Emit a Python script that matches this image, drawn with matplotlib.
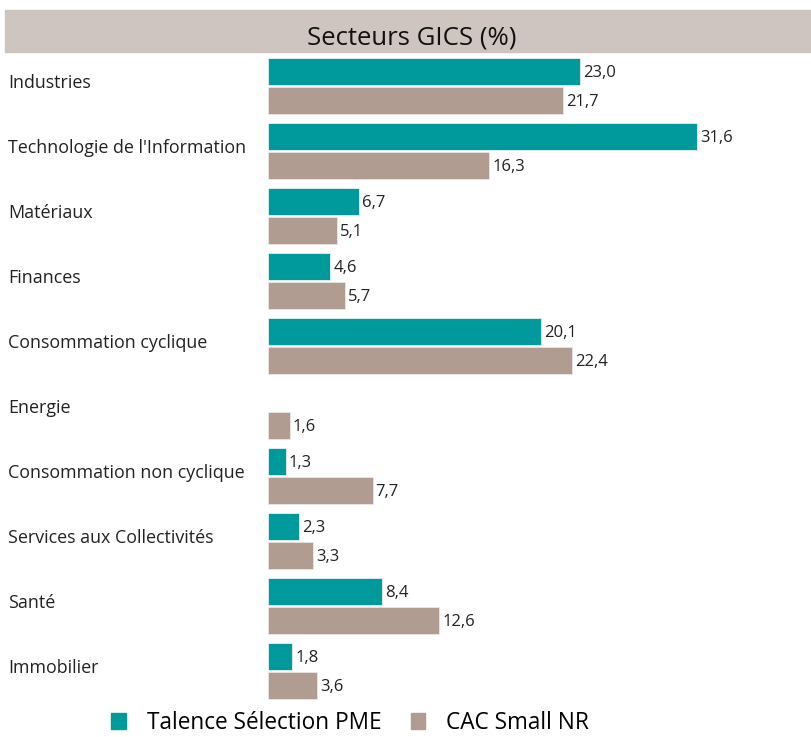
import numpy as np
import matplotlib.pyplot as plt
from matplotlib.patches import Patch, Rectangle
from matplotlib.transforms import blended_transform_factory

plt.rcParams['font.family'] = ['Open Sans', 'DejaVu Sans']

secteurs = ["Industries", "Technologie de l'Information", "Matériaux", "Finances",
            "Consommation cyclique", "Energie", "Consommation non cyclique",
            "Services aux Collectivités", "Santé", "Immobilier"]
talence = [23.0, 31.6, 6.7, 4.6, 20.1, np.nan, 1.3, 2.3, 8.4, 1.8]
cac_small = [21.7, 16.3, 5.1, 5.7, 22.4, 1.6, 7.7, 3.3, 12.6, 3.6]
series_names = ["Talence Sélection PME", "CAC Small NR"]

teal = "#019a9c"
beige = "#b09c90"

fig = plt.figure(figsize=(8.12, 7.37), dpi=100)
ax = fig.add_axes([268 / 812, 0.0455, 544 / 812, 0.8837])

y = np.arange(len(secteurs))
off = 0.223
h = 0.42
ax.barh(y - off, talence, height=h, color=teal, edgecolor="#e6f2f2", linewidth=0.6)
ax.barh(y + off, cac_small, height=h, color=beige, edgecolor="#ece6e2", linewidth=0.6)

def fmt(v):
    return ("%.1f" % v).replace(".", ",")

for i in range(len(secteurs)):
    for vals, o in ((talence, -off), (cac_small, off)):
        v = vals[i]
        if np.isnan(v):
            continue
        ax.text(v + 0.22, i + o + 0.02, fmt(v), va="center", ha="left", fontsize=12, color="#222222")

ax.set_xlim(0, 40.05)
ax.set_ylim(9.5, -0.52)
ax.axis("off")

# category labels on the left
tr = blended_transform_factory(fig.transFigure, ax.transData)
for i, s in enumerate(secteurs):
    fig.text(8 / 812, i - 0.05, s, transform=tr, va="center", ha="left", fontsize=12.9, color="#222222")

# title band
fig.patches.append(Rectangle((5 / 812, 1 - 52 / 737), 807 / 812, 42 / 737,
                             transform=fig.transFigure, color="#cfc5c0", zorder=0))
fig.text(412 / 812, 1 - 38 / 737, "Secteurs GICS (%)", ha="center", va="center",
         fontsize=18.5, color="#111111")

handles = [Patch(color=teal), Patch(color=beige)]
fig.legend(handles, series_names, loc="center", bbox_to_anchor=(350 / 812, 1 - 723 / 737),
           ncol=2, frameon=False, fontsize=16.3, handlelength=0.65, handleheight=0.65,
           columnspacing=1.3, handletextpad=0.9, borderaxespad=0, borderpad=0)

fig.savefig("out.png", dpi=100)
